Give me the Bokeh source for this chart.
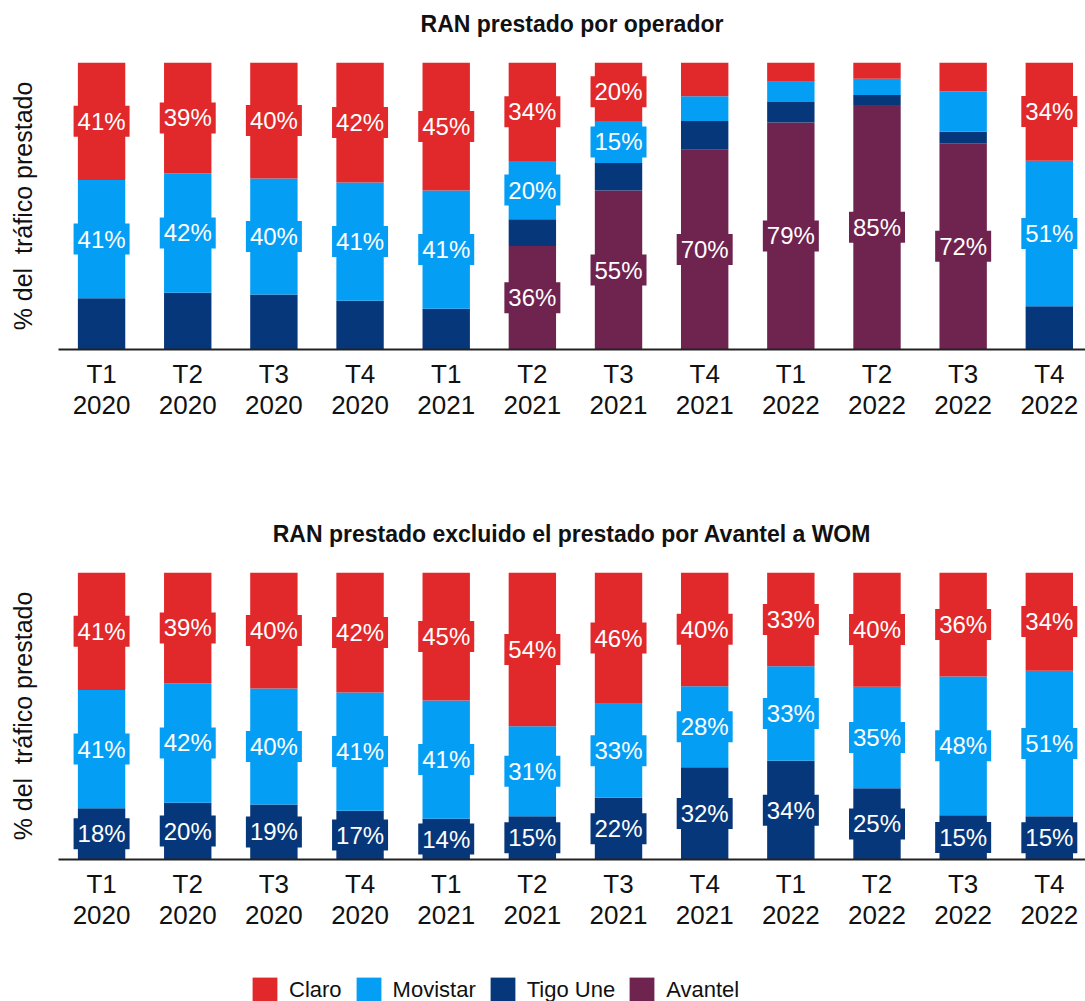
from bokeh.plotting import figure
from bokeh.models import ColumnDataSource, Range1d, FixedTicker, Legend, LegendItem
from bokeh.layouts import column
from bokeh.embed import file_html
from bokeh.resources import INLINE
from bokeh.core.properties import value

quarters = ["T1", "T2", "T3", "T4"] * 3
years = ["2020"] * 4 + ["2021"] * 4 + ["2022"] * 4
tick_labels = [f"{q}\n{y}" for q, y in zip(quarters, years)]

series_names = ["Avantel", "Tigo Une", "Movistar", "Claro"]  # stack order, bottom -> top
legend_order = ["Claro", "Movistar", "Tigo Une", "Avantel"]
colors = {"Claro": "#E1282A", "Movistar": "#049FF5", "Tigo Une": "#07377B", "Avantel": "#6F234F"}

# Chart 1: RAN prestado por operador (% of lent traffic)
top_claro = [40.9, 38.6, 40.4, 41.8, 44.6, 34.3, 20.4, 11.8, 6.7, 5.7, 10.1, 34.2]
top_movistar = [41.2, 41.6, 40.4, 41.2, 41.2, 20.3, 14.6, 8.6, 7.1, 5.6, 14.0, 50.7]
top_tigo = [17.9, 19.8, 19.2, 17.0, 14.2, 9.3, 9.6, 10.0, 7.1, 3.5, 4.0, 15.1]
top_avantel = [0, 0, 0, 0, 0, 36.1, 55.4, 69.6, 79.1, 85.2, 71.9, 0]

# Chart 2: excluding Avantel -> WOM
bot_claro = [40.9, 38.6, 40.4, 41.8, 44.6, 53.6, 45.7, 39.6, 32.7, 39.8, 36.2, 34.2]
bot_movistar = [41.2, 41.6, 40.4, 41.2, 41.2, 31.3, 32.8, 28.3, 32.9, 35.4, 48.4, 50.7]
bot_tigo = [17.9, 19.8, 19.2, 17.0, 14.2, 15.1, 21.5, 32.1, 34.4, 24.8, 15.4, 15.1]
bot_avantel = [0] * 12

FONT = "Liberation Sans"
x = list(range(len(tick_labels)))


def make_chart(title, data, labelled, min_label, height, border_top, border_bottom):
    p = figure(width=1085, height=height, output_backend="svg", toolbar_location=None,
               x_range=Range1d(-0.5, 11.42), y_range=Range1d(0, 100),
               min_border_left=58, min_border_right=0,
               min_border_top=border_top, min_border_bottom=border_bottom)
    p.title.text = title + "\n"
    p.title.align = "center"
    p.title.text_font = FONT
    p.title.text_font_size = "23px"
    p.title.text_font_style = "bold"
    p.title.text_color = "#111111"
    p.title.standoff = 0
    p.outline_line_color = None
    p.grid.visible = False
    p.background_fill_color = "white"

    src = ColumnDataSource(dict(x=x, **data))
    p.vbar_stack(series_names, x="x", width=0.55, source=src,
                 color=[colors[s] for s in series_names], line_color=None)

    lx, ly, lt, lc = [], [], [], []
    bottoms = [0.0] * len(x)
    for s in series_names:
        vals = data[s]
        for i, v in enumerate(vals):
            if s in labelled and v > 0 and v >= min_label:
                lx.append(x[i])
                ly.append(bottoms[i] + v / 2)
                lt.append(f"{v:.0f}%")
                lc.append(colors[s])
            bottoms[i] += v
    lsrc = ColumnDataSource(dict(x=lx, y=ly, text=lt, color=lc))
    p.rect(x="x", y="y", width=56, height=31, width_units="screen", height_units="screen",
           source=lsrc, fill_color="color", line_color=None)
    p.text(x="x", y="y", text="text", source=lsrc, text_color="white",
           text_font=value(FONT), text_font_size="24px", text_align="center",
           text_baseline="middle")

    p.xaxis.ticker = FixedTicker(ticks=x)
    p.xaxis.major_label_overrides = {i: t for i, t in zip(x, tick_labels)}
    p.xaxis.major_tick_line_color = None
    p.xaxis.minor_tick_line_color = None
    p.xaxis.axis_line_color = "#222222"
    p.xaxis.axis_line_width = 2
    p.xaxis.major_label_text_font = FONT
    p.xaxis.major_label_text_font_size = "26px"
    p.xaxis.major_label_text_color = "#111111"
    p.xaxis.major_label_text_line_height = 1.05
    p.xaxis.major_label_standoff = 3

    p.yaxis.ticker = FixedTicker(ticks=[])
    p.yaxis.axis_line_color = None
    p.yaxis.major_tick_line_color = None
    p.yaxis.minor_tick_line_color = None
    p.yaxis.axis_label = "% del\u00a0 tráfico prestado"
    p.yaxis.axis_label_text_font = FONT
    p.yaxis.axis_label_text_font_size = "25px"
    p.yaxis.axis_label_text_font_style = "normal"
    p.yaxis.axis_label_text_color = "#111111"
    p.yaxis.axis_label_standoff = 22
    return p, src


p1, s1 = make_chart("RAN prestado por operador",
                    {"Claro": top_claro, "Movistar": top_movistar,
                     "Tigo Une": top_tigo, "Avantel": top_avantel},
                    labelled=["Claro", "Movistar", "Avantel"], min_label=14.5,
                    height=500, border_top=62, border_bottom=151)

p2, s2 = make_chart("RAN prestado excluido el prestado por Avantel a WOM",
                    {"Claro": bot_claro, "Movistar": bot_movistar,
                     "Tigo Une": bot_tigo, "Avantel": bot_avantel},
                    labelled=["Claro", "Movistar", "Tigo Une", "Avantel"], min_label=0,
                    height=465, border_top=72, border_bottom=106)

# Legend strip: its own figure, legend proxies share the bottom chart's data
p3 = figure(width=1085, height=45, output_backend="svg", toolbar_location=None,
            x_range=Range1d(-0.5, 11.42), y_range=Range1d(0, 100),
            min_border_left=0, min_border_right=0, min_border_top=0, min_border_bottom=0)
p3.axis.visible = False
p3.grid.visible = False
p3.outline_line_color = None
proxies = p3.vbar_stack(series_names, x="x", width=0.55, source=s2,
                        color=[colors[s] for s in series_names], line_color=None)
for r in proxies:
    r.visible = False
by_name = dict(zip(series_names, proxies))
legend = Legend(items=[LegendItem(label=n, renderers=[by_name[n]]) for n in legend_order],
                orientation="horizontal", location=(191, 5),
                glyph_width=31, glyph_height=31, label_standoff=9, spacing=11,
                padding=0, margin=0, border_line_color=None,
                background_fill_alpha=0, inactive_fill_alpha=0,
                label_text_font=FONT, label_text_font_size="22px",
                label_text_color="#111111")
p3.add_layout(legend, "center")

layout = column(p1, p2, p3, spacing=0)
open("out.html", "w").write(file_html(layout, INLINE))
